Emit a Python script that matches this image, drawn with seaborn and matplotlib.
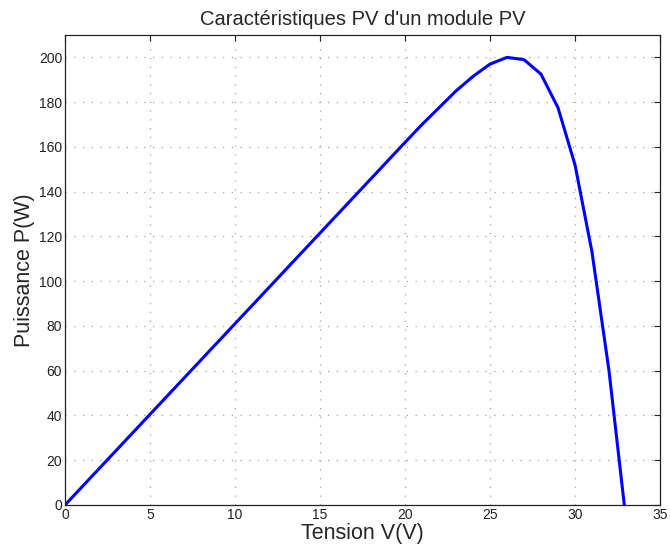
import matplotlib
matplotlib.use("Agg")
import matplotlib.pyplot as plt
import seaborn as sns
import pandas as pd

tension = [0, 1, 2, 3, 4, 5, 6, 7, 8, 9, 10, 11, 12, 13, 14, 15, 16, 17, 18, 19, 20,
           21, 22, 23, 24, 25, 26, 27, 28, 29, 30, 31, 32, 32.9]
puissance = [0, 8.1, 16.2, 24.3, 32.4, 40.5, 48.6, 56.7, 64.8, 72.9, 81.0, 89.1, 97.2,
             105.3, 113.4, 121.5, 129.6, 137.7, 145.8, 153.9, 162.0,
             170.0, 177.5, 185.0, 191.5, 197.0, 200.0, 199.0, 192.5, 177.5, 152.0,
             113.0, 60.0, 0.0]

sns.set_style("white")
plt.rcParams['font.family'] = ['Liberation Sans', 'DejaVu Sans']

df = pd.DataFrame({"V": tension, "P": puissance})

fig = plt.figure(figsize=(6.7, 5.52), dpi=100)
ax = fig.add_axes([65/670, 47/552, 595/670, 470/552])
sns.lineplot(data=df, x="V", y="P", ax=ax, color="#0000ff", linewidth=2.2, sort=False)

ax.set_xlim(0, 35)
ax.set_ylim(0, 210)
ax.set_xticks(range(0, 36, 5))
ax.set_yticks(range(0, 201, 20))
ax.grid(True, linestyle=(0, (1, 6)), color="#a0a0a0", linewidth=0.9)
ax.tick_params(direction="in", top=True, right=True, length=4, width=0.8,
               labelsize=10, colors="#222222", pad=2)
for s in ax.spines.values():
    s.set_color("#222222")
    s.set_linewidth(0.9)
ax.set_xlabel("Tension V(V)", fontsize=15.5, labelpad=1)
ax.set_ylabel("Puissance P(W)", fontsize=15.5, labelpad=3)
ax.set_title("Caractéristiques PV d'un module PV", fontsize=14.5, pad=7)

fig.savefig("out.png", dpi=100)
